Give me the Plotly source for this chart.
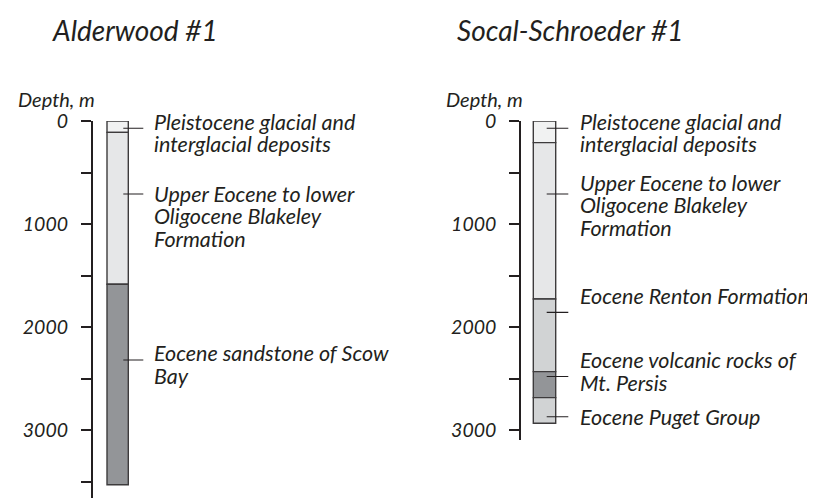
import plotly.graph_objs as go

# ---- data (depths in metres) ----
alder_units = [
    "Pleistocene glacial and<br>interglacial deposits",
    "Upper Eocene to lower<br>Oligocene Blakeley<br>Formation",
    "Eocene sandstone of Scow<br>Bay",
]
alder_top = [0, 110, 1585]
alder_bottom = [110, 1585, 3530]
alder_leader = [70, 709, 2320]
alder_colors = ["#f1f2f2", "#e6e7e8", "#939598"]

socal_units = [
    "Pleistocene glacial and<br>interglacial deposits",
    "Upper Eocene to lower<br>Oligocene Blakeley<br>Formation",
    "Eocene Renton Formation",
    "Eocene volcanic rocks of<br>Mt. Persis",
    "Eocene Puget Group",
]
socal_top = [0, 210, 1728, 2433, 2685]
socal_bottom = [210, 1728, 2433, 2685, 2934]
socal_leader = [70, 709, 1857, 2480, 2870]
socal_colors = ["#f1f2f2", "#e6e7e8", "#d1d3d4", "#939598", "#d1d3d4"]

tick_vals = [0, 500, 1000, 1500, 2000, 2500, 3000, 3500]
tick_text = ["0", "", "1000", "", "2000", "", "3000", ""]

# ---- layout geometry (pixels of the 815x498 page) ----
W, H = 815, 498
OFF = 8            # page body margin, compensated
PX_PER_M = 0.10303
TOP_PX = 121
LINE_PX = 22.5
INK = "#231f20"
FONT = "Lato"

fig = go.Figure()


def px_x(p):
    return (p - OFF) / W


def px_y(p):
    return 1 - (p - OFF) / H


def add_well(n, units, top, bottom, leader, colors, label_y, axis_px, col_px, col_w,
             bottom_px, xend_px, lead_px, label_px, title, title_px):
    xa = "xaxis" if n == 1 else f"xaxis{n}"
    ya = "yaxis" if n == 1 else f"yaxis{n}"
    xr = "x" if n == 1 else f"x{n}"
    yr = "y" if n == 1 else f"y{n}"
    centre = col_px + col_w / 2

    def to_x(p):
        return (p - centre) / col_w

    # column as stacked bar segments
    fig.add_bar(
        x=[0] * len(top), y=[b - t for t, b in zip(top, bottom)], base=top,
        width=1, marker=dict(color=colors, line=dict(color="#3d3b3c", width=1.4)),
        xaxis=xr, yaxis=yr, showlegend=False, hoverinfo="skip",
    )
    # leader ticks
    lx, ly = [], []
    for d in leader:
        lx += [to_x(lead_px[0]), to_x(lead_px[1]), None]
        ly += [d, d, None]
    fig.add_scatter(x=lx, y=ly, mode="lines", line=dict(color=INK, width=1.1),
                    xaxis=xr, yaxis=yr, showlegend=False, hoverinfo="skip", cliponaxis=False)
    # labels, one annotation per line for tight line spacing
    for txt, d in zip(units, label_y):
        for i, line in enumerate(txt.split("<br>")):
            fig.add_annotation(
                x=to_x(label_px), y=d + i * LINE_PX / PX_PER_M, xref=xr, yref=yr, text=line,
                showarrow=False, xanchor="left", yanchor="middle", align="left",
                font=dict(family=FONT, size=21.5, style="italic", color=INK),
            )

    fig.layout[xa] = dict(domain=[px_x(axis_px), min(px_x(xend_px), 1)],
                          range=[to_x(axis_px), to_x(xend_px)],
                          visible=False, fixedrange=True)
    depth_max = (bottom_px - TOP_PX) / PX_PER_M
    fig.layout[ya] = dict(
        domain=[max(px_y(bottom_px), 0), px_y(TOP_PX)], range=[depth_max, 0],
        anchor=xr, showgrid=False, zeroline=False, showline=True,
        linecolor=INK, linewidth=1.5, ticks="outside", ticklen=10, tickwidth=1.5,
        tickcolor=INK, tickvals=[v for v in tick_vals if v <= depth_max],
        ticktext=[t for v, t in zip(tick_vals, tick_text) if v <= depth_max],
        ticklabelstandoff=9,
        tickfont=dict(family=FONT, size=19.5, style="italic", color=INK),
    )
    fig.add_annotation(x=px_x(axis_px + 4), y=px_y(99), xref="paper", yref="paper",
                       text="Depth, m", showarrow=False, xanchor="right", yanchor="middle",
                       font=dict(family=FONT, size=20, style="italic", color=INK))
    fig.add_annotation(x=px_x(title_px), y=px_y(30), xref="paper", yref="paper",
                       text=title, showarrow=False, xanchor="left", yanchor="middle",
                       font=dict(family=FONT, size=28, style="italic", color=INK))


add_well(1, alder_units, alder_top, alder_bottom, alder_leader, alder_colors,
         [5, 704, 2252], axis_px=92.7, col_px=107, col_w=21.3, bottom_px=506,
         xend_px=440, lead_px=(123.3, 143.3), label_px=152.3,
         title="Alderwood #1", title_px=50)
add_well(2, socal_units, socal_top, socal_bottom, socal_leader, socal_colors,
         [5, 597, 1699, 2320, 2873], axis_px=521, col_px=533.3, col_w=22.4,
         bottom_px=440.4, xend_px=823, lead_px=(546.7, 568.3), label_px=577.5,
         title="Socal-Schroeder #1", title_px=455)

fig.update_layout(
    width=W, height=H,
    barmode="overlay",
    plot_bgcolor="white",
    paper_bgcolor="white",
    margin=dict(l=0, r=0, t=0, b=0, autoexpand=False),
    showlegend=False,
)

fig.write_html("out.html")
